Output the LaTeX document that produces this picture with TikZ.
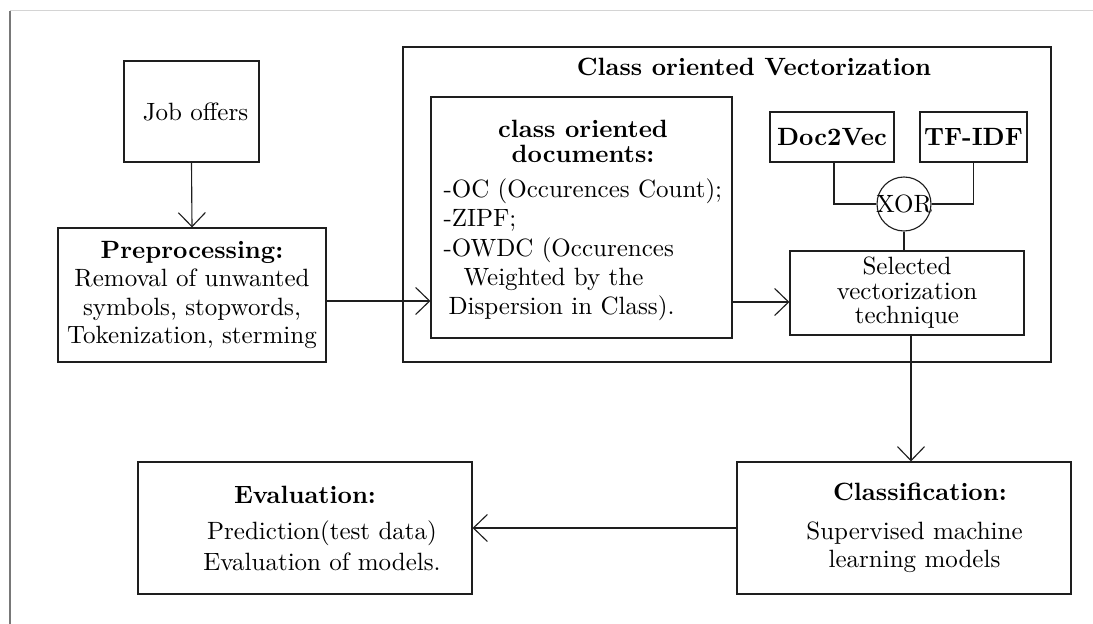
\documentclass[tikz,border=0pt]{standalone}
\usetikzlibrary{arrows.meta}

\definecolor{frameedge}{RGB}{120,120,120}
\definecolor{topedge}{RGB}{212,212,212}
\definecolor{ink}{RGB}{30,30,30}

\tikzset{
  box/.style={draw=ink, line width=0.45pt, inner sep=0pt, align=center},
  txt/.style={inner sep=0pt},
  arr/.style={-{Straight Barb[length=5.6pt,width=10.8pt]}, draw=ink, line width=0.45pt},
  wire/.style={draw=ink, line width=0.45pt},
}

\newcommand{\fs}[1]{\fontsize{10}{#1}\selectfont}

\begin{document}
\begin{tikzpicture}[x=0.4pt, y=-0.4pt]
  \useasboundingbox (0,0) rectangle (1093,624);

  % page edges
  \draw[topedge, line width=0.4pt] (10,11) -- (1093,11);
  \draw[frameedge, line width=0.8pt] (10,11) -- (10,624);

  % input and preprocessing
  \node[box, minimum width=54pt, minimum height=40.4pt, font=\fs{12}]
    (job) at (191.5,111.5) {\hspace*{3.2pt}Job offers};
  \node[box, minimum width=107.2pt, minimum height=53.6pt, font=\fs{11.3}]
    (prep) at (192,295)
    {\textbf{Preprocessing:}\\Removal of unwanted\\symbols, stopwords,\\Tokenization, sterming};

  % vectorization group
  \node[box, minimum width=259.2pt, minimum height=126pt] (vecgroup) at (727,204.5) {};
  \node[txt, font=\fs{12}\bfseries] (vectitle) at (754,67) {Class oriented Vectorization};

  \node[box, minimum width=120.4pt, minimum height=96.4pt] (docs) at (581.5,217.5) {};
  \node[txt, align=center, font=\fs{10}\bfseries] (docstitle) at (583,141)
    {class oriented\\documents:};
  \node[txt, align=left, anchor=west, font=\fs{11.7}] (docslist) at (443,250)
    {-OC (Occurences Count);\\-ZIPF;\\-OWDC (Occurences\\\hspace*{8pt}Weighted by the\\\hspace*{2pt}Dispersion in Class).};

  \node[box, minimum width=49.6pt, minimum height=20pt, font=\fs{12}\bfseries]
    (d2v) at (832,137) {Doc2Vec};
  \node[box, minimum width=42.8pt, minimum height=20pt, font=\fs{12}\bfseries]
    (tfidf) at (973.5,137) {TF-IDF};
  \node[draw=ink, line width=0.45pt, circle, minimum size=21.6pt, inner sep=0pt]
    (xor) at (904,204) {\makebox[0pt]{XOR}};
  \node[box, minimum width=93.6pt, minimum height=33.6pt, font=\fs{9.8}]
    (sel) at (907,293) {Selected\\vectorization\\technique};

  % classification and evaluation
  \node[box, minimum width=133.6pt, minimum height=52.8pt, font=\fs{11.2}]
    (cls) at (904,528)
    {\hspace*{12.8pt}\textbf{Classification:}\\[4.4pt]\hspace*{8.4pt}Supervised machine\\ \hspace*{8.4pt}learning models};
  \node[box, minimum width=133.6pt, minimum height=52.8pt, font=\fs{12.4}]
    (eval) at (305,528)
    {\textbf{Evaluation:}\\[2pt]\hspace*{13.6pt}Prediction(test data)\\ \hspace*{13.6pt}Evaluation of models.};

  % connectors
  \draw[arr] (job.south) -- (prep.north);
  \draw[arr] ([yshift=-2.4pt]prep.east) -- ([yshift=-2.4pt]prep.east -| docs.west);
  \draw[arr] ([yshift=-3.6pt]sel.west -| docs.east) -- ([yshift=-3.6pt]sel.west);
  \draw[wire] ([xshift=0.8pt]d2v.south) |- (xor.west);
  \draw[wire] (tfidf.south) |- (xor.east);
  \draw[wire] (xor.south) -- (xor.south |- sel.north);
  \draw[arr] ([xshift=1.6pt]sel.south) -- ([xshift=1.6pt]sel.south |- cls.north);
  \draw[arr] (cls.west) -- (eval.east);
\end{tikzpicture}
\end{document}
